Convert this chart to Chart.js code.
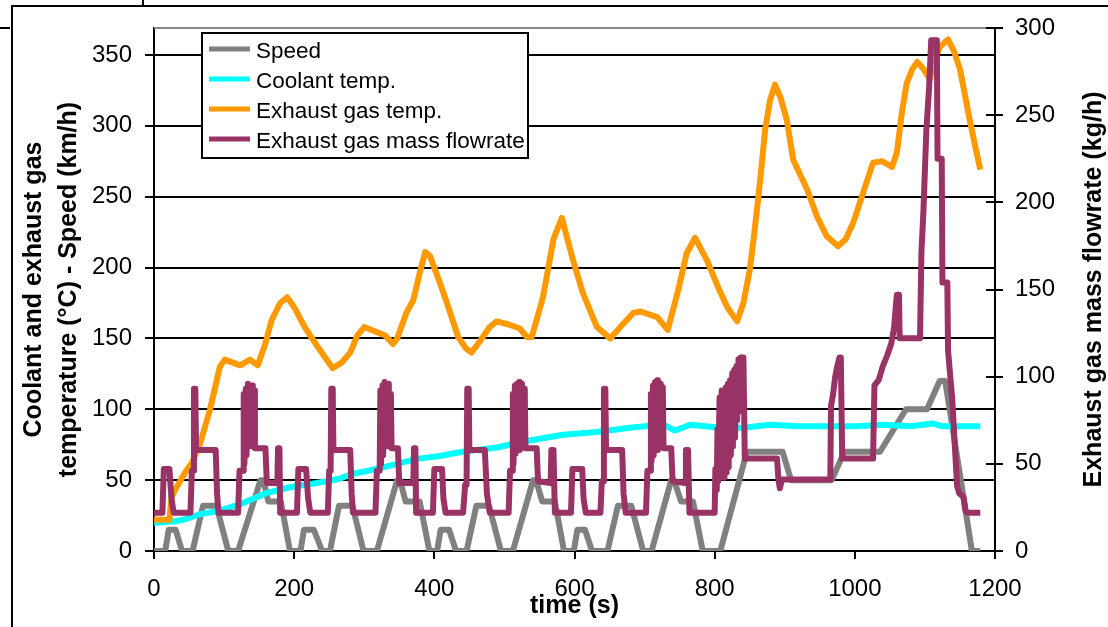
<!DOCTYPE html>
<html>
<head>
<meta charset="utf-8">
<script src="https://cdn.jsdelivr.net/npm/chart.js@4.4.1/dist/chart.umd.min.js"></script>
<style>
    html, body { margin: 0; padding: 0; background: #fff; }
    #wrap { width: 1108px; height: 627px; }
</style>
</head>
<body>
<div id="wrap"><canvas id="heatupChart" width="1108" height="627"></canvas></div>
<script>
// tick labels
const timeTicks = [0, 200, 400, 600, 800, 1000, 1200];
const leftTicks = [0, 50, 100, 150, 200, 250, 300, 350];
const rightTicks = [0, 50, 100, 150, 200, 250, 300];

const seriesNames = ['Speed', 'Coolant temp.', 'Exhaust gas temp.', 'Exhaust gas mass flowrate'];
const seriesColors = ['#808080', '#00FFFF', '#FF9900', '#993366'];

// Speed (km/h)
const speedTime = [0, 16, 21, 31, 40, 55, 70, 89, 106, 120, 152, 156, 163, 181, 194,
    209, 214, 228, 240, 251, 264, 283, 299, 318, 347, 351, 359, 379, 393,
    404, 409, 421, 431, 446, 460, 478, 495, 512, 541, 545, 554, 572, 585,
    599, 604, 615, 625, 647, 662, 681, 698, 710, 738, 742, 752, 769, 783,
    808, 846, 897, 909, 967, 985, 1036, 1073, 1103, 1121, 1129, 1167, 1179];
const speedKmh = [0, 0, 15, 15, 0, 0, 32, 32, 0, 0, 50, 50, 35, 35, 0,
    0, 15, 15, 0, 0, 32, 32, 0, 0, 50, 50, 35, 35, 0,
    0, 15, 15, 0, 0, 32, 32, 0, 0, 50, 50, 35, 35, 0,
    0, 15, 15, 0, 0, 32, 32, 0, 0, 50, 50, 35, 35, 0,
    0, 70, 70, 50, 50, 70, 70, 100, 100, 120, 120, 0, 0];

// Coolant temperature (°C)
const coolantTime = [0, 30, 41, 66, 90, 123, 137, 161, 194, 232, 265, 280, 327, 351, 375, 408, 440, 489, 536, 584,
    632, 679, 722, 732, 743, 754, 765, 808, 841, 879, 920, 960, 1000, 1040, 1080, 1111, 1125, 1150, 1179];
const coolantTemp = [20, 21, 22, 26, 28, 33, 36, 41, 45, 48, 51, 54, 59, 62, 65, 67, 70, 73, 78, 82,
    84, 87, 89, 88, 85, 87, 89, 87, 87, 89, 88, 88, 88, 89, 88, 90, 88, 88, 88];

// Exhaust gas temperature (°C)
const exhaustTime = [0, 22, 25, 30, 44, 55, 66, 80, 94, 101, 123, 137, 148, 158, 168, 180, 190, 200, 215, 235,
    255, 268, 280, 290, 300, 315, 330, 341, 347, 360, 370, 380, 387, 394, 408, 418, 434, 445, 453, 465,
    479, 489, 505, 522, 532, 539, 555, 570, 582, 598, 612, 632, 651, 669, 684, 694, 718, 733, 748, 760,
    772, 789, 805, 818, 832, 841, 850, 856, 862, 867, 872, 879, 886, 894, 903, 912, 932, 946, 960, 976,
    987, 998, 1012, 1026, 1039, 1053, 1060, 1067, 1074, 1082, 1089, 1098, 1107, 1115, 1122, 1133, 1142, 1150, 1164, 1172,
    1179];
const exhaustTemp = [22, 22, 38, 43, 55, 63, 76, 100, 130, 135, 131, 135, 131, 145, 163, 175, 179, 172, 158, 143,
    129, 133, 140, 152, 158, 155, 152, 146, 150, 168, 177, 198, 211, 208, 189, 175, 151, 143, 140, 148,
    158, 162, 160, 157, 151, 151, 179, 220, 235, 205, 182, 158, 150, 160, 168, 169, 165, 156, 184, 210,
    221, 205, 186, 172, 162, 175, 198, 222, 248, 272, 297, 318, 329, 320, 304, 276, 255, 236, 222, 215,
    220, 232, 253, 274, 275, 271, 281, 309, 330, 340, 345, 340, 333, 348, 356, 361, 352, 340, 304, 285,
    269];

// Exhaust gas mass flowrate (kg/h), right axis
const flowTime = [0, 12, 14, 22, 25, 28, 52, 54, 56, 57, 59, 60, 88, 90, 92,
    120, 122, 127, 128, 129, 131, 132, 134, 135, 137, 138, 140, 141, 143, 144, 159, 161, 176, 177, 179, 180,
    204, 206, 217, 220, 223, 248, 250, 252, 253, 255, 256, 280, 282, 284,
    316, 318, 322, 323, 324, 326, 327, 329, 330, 332, 333, 335, 336, 338, 339, 348, 350, 370, 371, 373, 374,
    398, 400, 411, 413, 416, 441, 444, 446, 447, 449, 450, 472, 475, 479,
    506, 508, 511, 512, 513, 515, 516, 518, 519, 521, 522, 525, 526, 529, 530, 546, 548, 566, 567, 570, 572,
    595, 597, 611, 613, 616, 637, 639, 641, 642, 644, 645, 668, 670, 673,
    702, 704, 708, 709, 710, 712, 713, 715, 716, 718, 719, 722, 723, 726, 727, 738, 740, 758, 759, 762, 764,
    798, 800, 801, 803, 804, 805, 807, 808, 810, 811, 813, 814, 816, 817, 819, 820, 822, 823, 825, 826,
    828, 829, 831, 832, 834, 835, 837, 841, 843, 889, 891, 893, 896, 965, 966, 969, 972, 975, 978, 980,
    982, 1026, 1028, 1034, 1040, 1046, 1052, 1056, 1058, 1060, 1063, 1064, 1093, 1095, 1098, 1102, 1106, 1109, 1117, 1118,
    1124, 1125, 1132, 1133, 1139, 1143, 1146, 1149, 1155, 1158, 1160, 1179];
const flowRate = [22, 22, 47, 47, 30, 22, 22, 46, 46, 93, 93, 58, 58, 33, 22,
    22, 46, 46, 90, 50, 93, 55, 96, 60, 94, 62, 95, 60, 92, 59, 59, 39, 39, 59, 59, 22,
    22, 47, 47, 30, 22, 22, 46, 46, 93, 93, 58, 58, 33, 22,
    22, 46, 46, 92, 50, 95, 55, 97, 60, 95, 62, 96, 60, 90, 59, 59, 39, 39, 59, 59, 22,
    22, 47, 47, 30, 22, 22, 38, 38, 93, 93, 58, 58, 33, 22,
    22, 46, 46, 90, 50, 95, 56, 96, 60, 97, 58, 96, 60, 93, 59, 59, 40, 39, 58, 58, 22,
    22, 47, 47, 30, 22, 22, 40, 40, 93, 93, 58, 58, 33, 22,
    22, 46, 46, 90, 52, 95, 55, 97, 60, 98, 58, 96, 60, 94, 59, 59, 40, 39, 58, 58, 22,
    22, 22, 47, 35, 70, 40, 88, 42, 92, 44, 90, 42, 94, 45, 96, 48, 98, 55, 102, 60,
    104, 65, 106, 75, 110, 80, 111, 111, 53, 53, 41, 36, 41, 41, 83, 90, 100, 106, 111, 111,
    53, 53, 95, 98, 106, 112, 119, 128, 138, 147, 147, 122, 122, 171, 196, 241, 266, 293, 293, 225,
    225, 154, 154, 115, 87, 58, 37, 33, 31, 23, 22, 22];

function toPoints(xs, ys) {
    return xs.map((x, i) => ({ x: x, y: ys[i] }));
}

const FONT = "'Liberation Sans', Arial, sans-serif";

// extra drawing: page frame, plot top border, inner right ticks, right title, legend
const decorPlugin = {
    id: 'decor',
    beforeDraw(chart) {
        const ctx = chart.ctx;
        ctx.save();
        ctx.fillStyle = '#fff';
        ctx.fillRect(0, 0, chart.width, chart.height);
        ctx.strokeStyle = '#000';
        ctx.lineWidth = 2;
        ctx.beginPath();
        ctx.moveTo(12, 6); ctx.lineTo(chart.width, 6);
        ctx.moveTo(12, 5); ctx.lineTo(12, chart.height);
        ctx.moveTo(0, 28); ctx.lineTo(10, 28);
        ctx.moveTo(143, 0); ctx.lineTo(143, 6);
        ctx.stroke();
        ctx.restore();
    },
    afterDraw(chart) {
        const ctx = chart.ctx;
        const area = chart.chartArea;
        const y1 = chart.scales.y1;
        ctx.save();

        // gray top border of the plot
        ctx.strokeStyle = '#888';
        ctx.lineWidth = 2;
        ctx.beginPath();
        ctx.moveTo(area.left, area.top);
        ctx.lineTo(area.right, area.top);
        ctx.stroke();

        // right ticks cross the axis line
        ctx.strokeStyle = '#000';
        ctx.beginPath();
        y1.ticks.forEach(t => {
            const py = Math.round(y1.getPixelForValue(t.value));
            ctx.moveTo(area.right - 9, py);
            ctx.lineTo(area.right, py);
        });
        ctx.stroke();

        // right axis title, reads bottom to top
        ctx.translate(1094, (area.top + area.bottom) / 2);
        ctx.rotate(-Math.PI / 2);
        ctx.fillStyle = '#000';
        ctx.font = 'bold 25px ' + FONT;
        ctx.textAlign = 'center';
        ctx.textBaseline = 'middle';
        ctx.fillText('Exhaust gas mass flowrate (kg/h)', 0, 0);
        ctx.restore();

        // legend box
        ctx.save();
        ctx.fillStyle = '#fff';
        ctx.fillRect(202, 33, 326, 125);
        ctx.strokeStyle = '#000';
        ctx.lineWidth = 2;
        ctx.strokeRect(202, 33, 326, 125);
        ctx.font = '22.5px ' + FONT;
        ctx.textBaseline = 'alphabetic';
        ctx.textAlign = 'left';
        seriesNames.forEach((name, i) => {
            const rowY = 49 + i * 30;
            ctx.strokeStyle = seriesColors[i];
            ctx.lineWidth = 5;
            ctx.beginPath();
            ctx.moveTo(209, rowY);
            ctx.lineTo(250, rowY);
            ctx.stroke();
            ctx.fillStyle = '#000';
            ctx.fillText(name, 256, rowY + 9);
        });
        ctx.restore();
    }
};

document.addEventListener("DOMContentLoaded", function () {
    const ctx = document.getElementById('heatupChart').getContext('2d');

    Chart.defaults.font.family = FONT;
    Chart.defaults.color = '#000';

    const lineStyle = {
        borderWidth: 6,
        pointRadius: 0,
        tension: 0,
        fill: false,
        borderJoinStyle: 'round'
    };

    const data = {
        datasets: [
            Object.assign({ label: seriesNames[0], data: toPoints(speedTime, speedKmh), borderColor: seriesColors[0], yAxisID: 'y', order: 4 }, lineStyle),
            Object.assign({ label: seriesNames[1], data: toPoints(coolantTime, coolantTemp), borderColor: seriesColors[1], yAxisID: 'y', order: 3 }, lineStyle),
            Object.assign({ label: seriesNames[2], data: toPoints(exhaustTime, exhaustTemp), borderColor: seriesColors[2], yAxisID: 'y', order: 2 }, lineStyle),
            Object.assign({ label: seriesNames[3], data: toPoints(flowTime, flowRate), borderColor: seriesColors[3], yAxisID: 'y1', order: 1 }, lineStyle)
        ]
    };

    const options = {
        responsive: false,
        animation: false,
        devicePixelRatio: 1,
        layout: { padding: { top: 28, left: 0, right: 0, bottom: 0 } },
        plugins: {
            legend: { display: false },
            tooltip: { enabled: false },
            title: { display: false }
        },
        scales: {
            x: {
                type: 'linear',
                min: 0,
                max: 1200,
                afterBuildTicks: s => { s.ticks = timeTicks.map(v => ({ value: v })); },
                afterFit: s => { s.height = 76; },
                grid: { drawOnChartArea: false, drawTicks: true, tickLength: 8, color: '#000', lineWidth: 2 },
                border: { color: '#000', width: 2 },
                ticks: {
                    color: '#000',
                    font: { size: 24 },
                    padding: 16,
                    maxRotation: 0,
                    autoSkip: false,
                    callback: v => String(v)  // no thousands separator
                },
                title: {
                    display: true,
                    text: 'time (s)',
                    color: '#000',
                    font: { size: 25, weight: 'bold', lineHeight: 1.2 },
                    padding: { top: 0, bottom: 6 }
                }
            },
            y: {
                position: 'left',
                min: 0,
                max: 369,
                afterBuildTicks: s => { s.ticks = leftTicks.map(v => ({ value: v })); },
                afterFit: s => { s.width = 154; },
                grid: { color: '#000', lineWidth: 2, tickLength: 9 },
                border: { color: '#000', width: 2 },
                ticks: { color: '#000', font: { size: 24 }, padding: 13 },
                title: {
                    display: true,
                    text: ['Coolant and exhaust gas', 'temperature (°C) - Speed (km/h)'],
                    color: '#000',
                    font: { size: 25, weight: 'bold', lineHeight: 1.4 },
                    padding: { top: 17, bottom: 0 }
                }
            },
            y1: {
                position: 'right',
                min: 0,
                max: 300,
                afterBuildTicks: s => { s.ticks = rightTicks.map(v => ({ value: v })); },
                afterFit: s => { s.width = 113; },
                grid: { drawOnChartArea: false, color: '#000', lineWidth: 2, tickLength: 8 },
                border: { color: '#000', width: 2 },
                ticks: { color: '#000', font: { size: 24 }, padding: 12 },
                title: { display: false }
            }
        }
    };

    new Chart(ctx, {
        type: 'line',
        data: data,
        options: options,
        plugins: [decorPlugin]
    });
});
</script>
</body>
</html>
